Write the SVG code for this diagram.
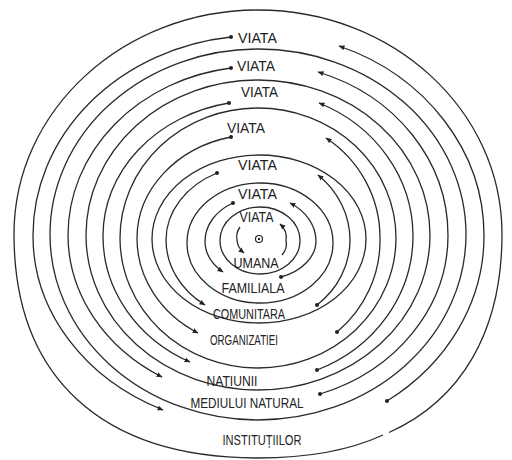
<svg xmlns="http://www.w3.org/2000/svg" width="512" height="460" viewBox="0 0 512 460">
<style>
.ring{fill:none;stroke:#2a2a2a;stroke-width:1.3}
.flow{fill:none;stroke:#2a2a2a;stroke-width:1.3;marker-end:url(#arr)}
.flow.s{marker-start:url(#dot)}
.lbl{font-family:"Liberation Sans",Arial,sans-serif;font-size:15px;fill:#222;text-anchor:middle}
</style>
<defs>
<marker id="arr" markerUnits="userSpaceOnUse" markerWidth="7" markerHeight="6" refX="5.5" refY="3" orient="auto"><path d="M0,0.5 L6,3 L0,5.5 z" fill="#222"/></marker>
<marker id="dot" markerUnits="userSpaceOnUse" markerWidth="6" markerHeight="6" refX="3" refY="3"><circle cx="3" cy="3" r="2" fill="#222"/></marker>
</defs>
<rect width="512" height="460" fill="#fff"/>
<g id="rings">
<ellipse class="ring" cx="260" cy="240.5" rx="40" ry="33.5"/>
<ellipse class="ring" cx="260" cy="243" rx="73" ry="60"/>
<ellipse class="ring" cx="259" cy="239" rx="107" ry="84"/>
<ellipse class="ring" cx="258" cy="238" rx="138" ry="130"/>
<ellipse class="ring" cx="258" cy="235" rx="172" ry="155"/>
<ellipse class="ring" cx="258" cy="234.5" rx="208" ry="185.5"/>
<path class="ring" d="M258,458 C101.8,458 14,377.4 14,234 C14,110.3 123.2,10 258,10 C392.8,10 502,110.3 502,234 C502,331.5 461.4,400 389,432.5 M383,435 C351,449.7 308,458 258,458"/>
</g>
<g id="center"><circle cx="259" cy="239" r="3.5" fill="none" stroke="#222" stroke-width="1.2"/><circle cx="259" cy="239" r="1.2" fill="#222"/></g>
<g id="connectors">
<path class="flow" d="M240,227 A25,20 0 0 0 237,240 A25,20 0 0 0 244,253"/>
<path class="flow" d="M282,255 A25,20 0 0 0 286,240 A25,20 0 0 0 280,224"/>
<path class="flow s" d="M233,203 A55,44 0 0 0 205,241 A55,42 0 0 0 223,272"/>
<path class="flow s" d="M281,277 A56,39 0 0 0 316,241 A56,45 0 0 0 290,203"/>
<path class="flow s" d="M217,173 A92,75 0 0 0 166,240 A92,80 0 0 0 205,305"/>
<path class="flow s" d="M317,305 A92,85 0 0 0 350,240 A92,86 0 0 0 318,175"/>
<path class="flow s" d="M231,137 A121,104 0 0 0 137,238 A121,109 0 0 0 198,333"/>
<path class="flow s" d="M337,332 A122,120 0 0 0 380,238 A122,120 0 0 0 326,138"/>
<path class="flow s" d="M229,103 A155,135 0 0 0 103,236 A155,140 0 0 0 190,362"/>
<path class="flow s" d="M317,370 A155,145 0 0 0 413,236 A155,145 0 0 0 319,103"/>
<path class="flow s" d="M231,68 A190,169 0 0 0 68,235 A190,165 0 0 0 162,377"/>
<path class="flow s" d="M320,394 A190,168 0 0 0 448,235 A190,172 0 0 0 318,72"/>
<path class="flow s" d="M231,37 A225,200 0 0 0 33,236 A225,192 0 0 0 163,410"/>
<path class="flow s" d="M387,401 A226,201 0 0 0 484,236 A226,203 0 0 0 339,46"/>
</g>
<g id="level7"><text class="lbl" x="257.5" y="43" textLength="39" lengthAdjust="spacingAndGlyphs">VIATA</text><text class="lbl" x="262" y="445" textLength="79" lengthAdjust="spacingAndGlyphs">INSTITUȚIILOR</text></g>
<g id="level6"><text class="lbl" x="256" y="71" textLength="38" lengthAdjust="spacingAndGlyphs">VIATA</text><text class="lbl" x="247" y="408" textLength="113" lengthAdjust="spacingAndGlyphs">MEDIULUI NATURAL</text></g>
<g id="level5"><text class="lbl" x="259.5" y="97" textLength="37" lengthAdjust="spacingAndGlyphs">VIATA</text><text class="lbl" x="232" y="386" textLength="51" lengthAdjust="spacingAndGlyphs">NATIUNII</text></g>
<g id="level4"><text class="lbl" x="246" y="133" textLength="38" lengthAdjust="spacingAndGlyphs">VIATA</text><text class="lbl" x="244" y="345" textLength="68" lengthAdjust="spacingAndGlyphs">ORGANIZATIEI</text></g>
<g id="level3"><text class="lbl" x="257.5" y="170" textLength="39" lengthAdjust="spacingAndGlyphs">VIATA</text><text class="lbl" x="249" y="319" textLength="72" lengthAdjust="spacingAndGlyphs">COMUNITARA</text></g>
<g id="level2"><text class="lbl" x="257.5" y="199" textLength="39" lengthAdjust="spacingAndGlyphs">VIATA</text><text class="lbl" x="253" y="293" textLength="63" lengthAdjust="spacingAndGlyphs">FAMILIALA</text></g>
<g id="level1"><text class="lbl" x="256.5" y="222" textLength="34" lengthAdjust="spacingAndGlyphs">VIATA</text><text class="lbl" x="256" y="268" textLength="45" lengthAdjust="spacingAndGlyphs">UMANA</text></g>
</svg>
